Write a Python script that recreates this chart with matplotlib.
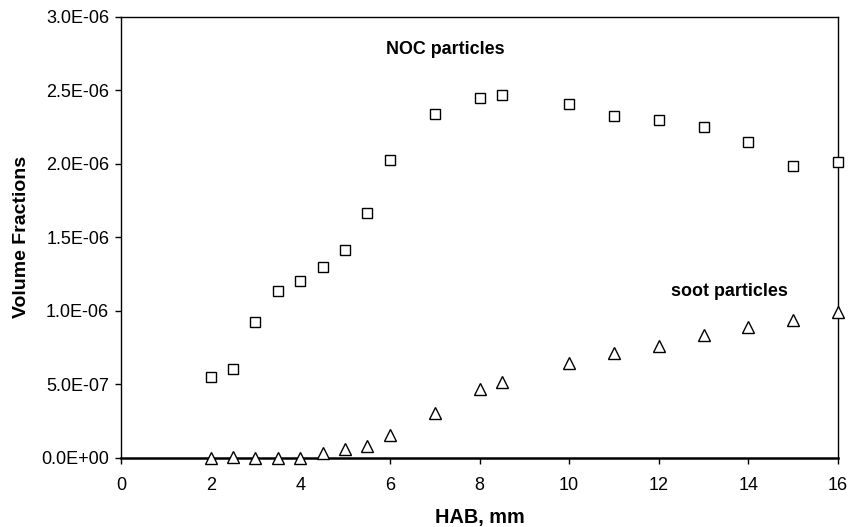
import numpy as np
import matplotlib
matplotlib.use("Agg")
import matplotlib.pyplot as plt
from matplotlib.ticker import FuncFormatter

# HAB positions (mm) and measured volume fractions
hab = [2, 2.5, 3, 3.5, 4, 4.5, 5, 5.5, 6, 7, 8, 8.5, 10, 11, 12, 13, 14, 15, 16]
noc = [0.553e-6, 0.603e-6, 0.927e-6, 1.135e-6, 1.205e-6, 1.296e-6, 1.416e-6,
       1.666e-6, 2.026e-6, 2.339e-6, 2.449e-6, 2.466e-6, 2.405e-6, 2.323e-6,
       2.298e-6, 2.250e-6, 2.150e-6, 1.987e-6, 2.010e-6]
soot = [0.0, 0.009e-6, 0.0, 0.002e-6, 0.0, 0.032e-6, 0.061e-6, 0.084e-6,
        0.154e-6, 0.308e-6, 0.469e-6, 0.519e-6, 0.646e-6, 0.712e-6, 0.758e-6,
        0.838e-6, 0.888e-6, 0.938e-6, 0.995e-6]

x_ticks = [0, 2, 4, 6, 8, 10, 12, 14, 16]
y_ticks = [0, 0.5e-6, 1.0e-6, 1.5e-6, 2.0e-6, 2.5e-6, 3.0e-6]

plt.rcParams['font.family'] = ['Liberation Sans', 'DejaVu Sans']

fig = plt.figure(figsize=(8.48, 5.27), dpi=100)
ax = fig.add_axes([121 / 848, 1 - 458 / 527, (838 - 121) / 848, (458 - 16.7) / 527])

ax.plot(hab, noc, linestyle='none', marker='s', markersize=7.6,
        markerfacecolor='white', markeredgecolor='black', markeredgewidth=1.0,
        clip_on=False, zorder=3)
ax.plot(hab, soot, linestyle='none', marker='^', markersize=8.0,
        markerfacecolor='white', markeredgecolor='black', markeredgewidth=1.0,
        clip_on=False, zorder=3)

ax.set_xlim(0, 16)
ax.set_ylim(0, 3.0e-6)
ax.set_xticks(x_ticks)
ax.set_yticks(y_ticks)


def sci_fmt(v, pos):
    s = "%.1E" % v
    mant, ex = s.split("E")
    sign = ex[0]
    return "%sE%s%02d" % (mant, sign, abs(int(ex)))


ax.yaxis.set_major_formatter(FuncFormatter(sci_fmt))
ax.tick_params(axis='both', direction='out', length=4.5, width=1.0,
               labelsize=13, color='black')
ax.tick_params(axis='x', pad=9)
ax.tick_params(axis='y', pad=4)

for side in ['left', 'top', 'right']:
    ax.spines[side].set_linewidth(1.0)
ax.spines['bottom'].set_linewidth(1.8)

ax.set_xlabel("HAB, mm", fontsize=14.3, fontweight='bold', labelpad=10)
ax.set_ylabel("Volume Fractions", fontsize=14, fontweight='bold', labelpad=8)

ax.text(7.24, 2.78e-6, "NOC particles", fontsize=12.9, fontweight='bold',
        ha='center', va='center')
ax.text(13.57, 1.13e-6, "soot particles", fontsize=12.9, fontweight='bold',
        ha='center', va='center')

fig.savefig("out.png", dpi=100)
